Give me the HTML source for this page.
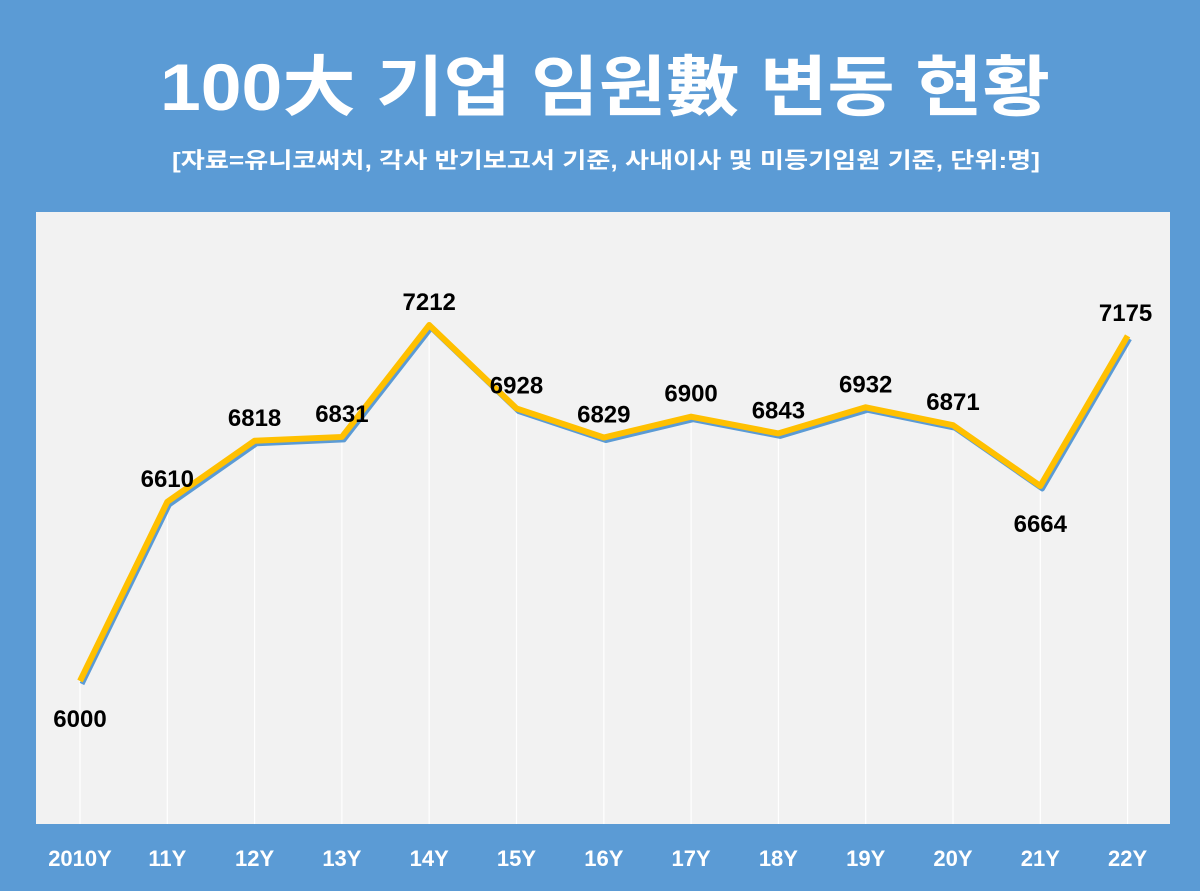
<!DOCTYPE html>
<html><head><meta charset="utf-8"><style>
body{margin:0;width:1200px;height:886px;background:#5b9bd5;overflow:hidden;font-family:"Liberation Sans","Noto Sans CJK KR",sans-serif;}
</style></head><body>
<svg id="c" width="1200" height="886" xmlns="http://www.w3.org/2000/svg">
<rect x="0" y="0" width="1200" height="886" fill="#5b9bd5"/>
<text x="160" y="110" textLength="890" lengthAdjust="spacingAndGlyphs" fill="#fff" font-size="66" font-weight="bold" font-family="Liberation Sans, Noto Sans CJK KR, sans-serif">100大 기업 임원數 변동 현황</text>
<text x="172" y="168" textLength="868" lengthAdjust="spacingAndGlyphs" fill="#fff" font-size="22" font-weight="bold" font-family="Liberation Sans, Noto Sans CJK KR, sans-serif">[자료=유니코써치, 각사 반기보고서 기준, 사내이사 및 미등기임원 기준, 단위:명]</text>
<rect x="36" y="212" width="1134" height="612" fill="#f2f2f2"/>
<g id="g"></g>
</svg>
<script>
const categories=["2010Y","11Y","12Y","13Y","14Y","15Y","16Y","17Y","18Y","19Y","20Y","21Y","22Y"];
const values=[6000,6610,6818,6831,7212,6928,6829,6900,6843,6932,6871,6664,7175];
const below=[true,false,false,false,false,false,false,false,false,false,false,true,false];
const NS="http://www.w3.org/2000/svg";
const g=document.getElementById('g');
function xs(i){return 80+i*87.3;}
function ys(v){return 681-(v-6000)*0.2937;}
function mk(t,a){const e=document.createElementNS(NS,t);for(const k in a)e.setAttribute(k,a[k]);g.appendChild(e);return e;}
values.forEach((v,i)=>{
  const l=mk('line',{x1:xs(i),y1:ys(v),x2:xs(i),y2:824,stroke:'#ffffff','stroke-width':1.2});
  
  
});
const pts=values.map((v,i)=>xs(i)+','+ys(v)).join(' ');
const sh=mk('polyline',{points:values.map((v,i)=>(xs(i)+2)+','+(ys(v)+3)).join(' '),fill:'none',stroke:'#5b9bd5','stroke-width':5,'stroke-linejoin':'round'});


const ln=mk('polyline',{points:pts,fill:'none',stroke:'#ffc000','stroke-width':6,'stroke-linejoin':'round'});


values.forEach((v,i)=>{
  const t=mk('text',{x:xs(i)+(i==12?-2:0),y:below[i]?ys(v)+46:ys(v)-15,'text-anchor':'middle','font-size':24,'font-weight':'bold',fill:'#000'});
  t.textContent=v;
  
  
  const c=mk('text',{x:xs(i),y:866,'text-anchor':'middle','font-size':22,'font-weight':'bold',fill:'#fff'});
  c.textContent=categories[i];
  
  
});
</script>
</body></html>
